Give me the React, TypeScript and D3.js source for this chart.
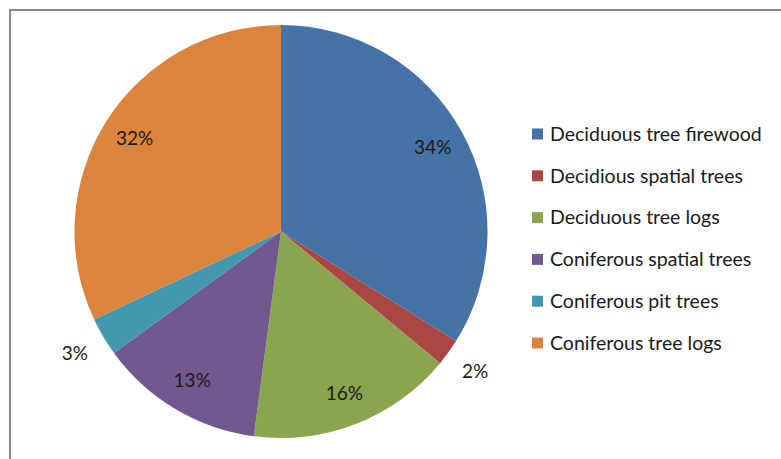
import React, { useEffect, useRef } from "react";
import * as d3 from "d3";

const width = 781;
const height = 459;

const categories = [
  "Deciduous tree firewood",
  "Decidious spatial trees",
  "Deciduous tree logs",
  "Coniferous spatial trees",
  "Coniferous pit trees",
  "Coniferous tree logs",
];
const values = [33.9, 2.1, 16.1, 12.9, 3.0, 32.0];
const percentLabels = ["34%", "2%", "16%", "13%", "3%", "32%"];
const colors = ["#4572A7", "#AA4643", "#89A54E", "#71588F", "#4198AF", "#DB843D"];

const center = { x: 281, y: 231.5 };
const radius = 206.5;
const font = "Lato, 'Open Sans', sans-serif";

export default function App() {
  const ref = useRef<SVGSVGElement | null>(null);

  useEffect(() => {
    const svg = d3.select(ref.current);
    svg.selectAll("*").remove();

    svg.append("rect")
      .attr("x", 0).attr("y", 0)
      .attr("width", width).attr("height", height)
      .attr("fill", "#fff");

    // chart frame, runs off right and bottom edges
    svg.append("rect")
      .attr("x", 10).attr("y", 10)
      .attr("width", 820).attr("height", 520)
      .attr("fill", "none")
      .attr("stroke", "#888")
      .attr("stroke-width", 2);

    const data = values.map((v, i) => ({ name: categories[i], value: v, label: percentLabels[i], color: colors[i] }));

    const pie = d3.pie<any>().sort(null).value((d: any) => d.value);
    const arcs = pie(data);
    const arc = d3.arc<any>().innerRadius(0).outerRadius(radius);
    const inner = d3.arc<any>().innerRadius(radius * 0.84).outerRadius(radius * 0.84);
    const outer = d3.arc<any>().innerRadius(radius + 33).outerRadius(radius + 33);

    const g = svg.append("g")
      .attr("transform", "translate(" + center.x + "," + center.y + ")");

    g.selectAll("path.slice")
      .data(arcs)
      .enter().append("path")
      .attr("class", "slice")
      .attr("d", arc)
      .attr("fill", (d: any) => d.data.color);

    g.selectAll("text.pct")
      .data(arcs)
      .enter().append("text")
      .attr("class", "pct")
      .attr("transform", (d: any) => {
        const small = d.data.value < 5;
        const c = small ? outer.centroid(d) : inner.centroid(d);
        return "translate(" + c[0] + "," + c[1] + ")";
      })
      .attr("text-anchor", "middle")
      .attr("dy", "0.35em")
      .attr("font-family", font)
      .attr("font-size", 19)
      .attr("fill", "#1a1a1a")
      .text((d: any) => d.data.label);

    // legend
    const y = d3.scalePoint<string>()
      .domain(categories)
      .range([134, 343]);

    const legend = svg.append("g");
    const items = legend.selectAll("g.item")
      .data(data)
      .enter().append("g")
      .attr("class", "item")
      .attr("transform", (d: any) => "translate(532," + y(d.name) + ")");

    items.append("rect")
      .attr("x", 0).attr("y", -5.5)
      .attr("width", 11).attr("height", 11)
      .attr("fill", (d: any) => d.color);

    items.append("text")
      .attr("x", 18)
      .attr("dy", "0.35em")
      .attr("font-family", font)
      .attr("font-size", 19.5)
      .attr("fill", "#1a1a1a")
      .text((d: any) => d.name);
  }, []);

  return (
    <svg
      ref={ref}
      width={width}
      height={height}
      style={{ position: "absolute", left: 0, top: 0 }}
    />
  );
}
